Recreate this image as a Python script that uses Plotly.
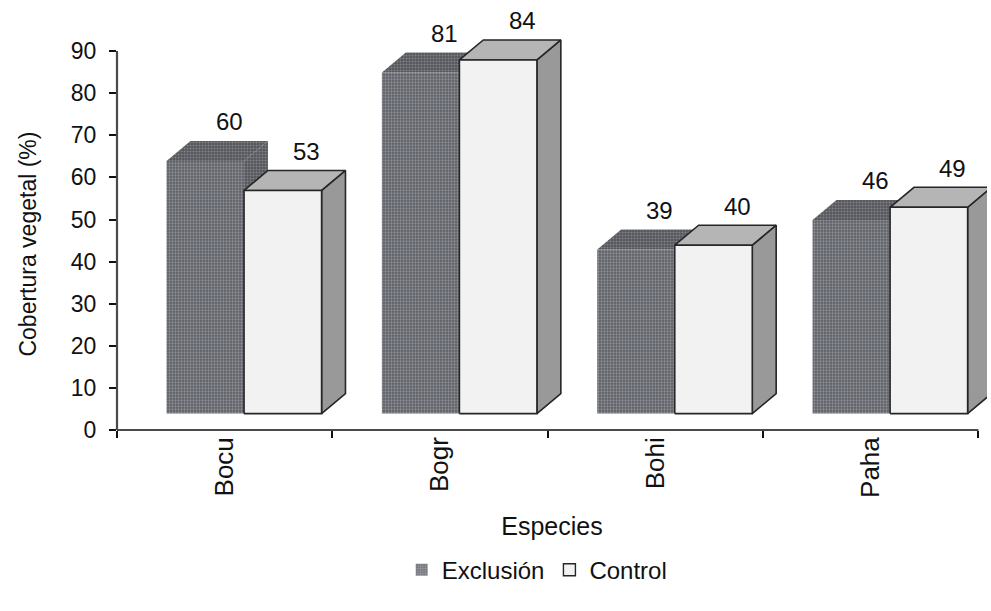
import plotly.graph_objects as go

# Cobertura vegetal por especie y tratamiento
especies = ["Bocu", "Bogr", "Bohi", "Paha"]
exclusion = [60, 81, 39, 46]
control = [53, 84, 40, 49]
y_ticks = list(range(0, 91, 10))

FONT = "Liberation Sans, Arial, sans-serif"

# Pseudo-3D column geometry, in axis units
BAR_W = 0.36      # width of a column's front face
OFF_EXC = 0.23    # left edge of the first column inside its category
DX, DY = 0.111, 4.75   # depth of the column (right / up)
BASE = 3.9        # height of the floor in front of the columns


def faces(values, offset):
    """Front, top and side polygons of each column, separated by gaps."""
    fx, fy, tx, ty, sx, sy = [], [], [], [], [], []
    for i, v in enumerate(values):
        x0 = i + offset
        x1 = x0 + BAR_W
        y0, y1 = BASE, BASE + v
        fx += [x0, x1, x1, x0, x0, None]
        fy += [y0, y0, y1, y1, y0, None]
        tx += [x0, x1, x1 + DX, x0 + DX, x0, None]
        ty += [y1, y1, y1 + DY, y1 + DY, y1, None]
        sx += [x1, x1 + DX, x1 + DX, x1, x1, None]
        sy += [y0, y0 + DY, y1 + DY, y1, y0, None]
    return (fx, fy), (tx, ty), (sx, sy)


fig = go.Figure()

exc_pattern = dict(shape=".", bgcolor="#5c5e65", fgcolor="#8d8f95",
                   size=3, solidity=0.45, fillmode="replace")
exc_dark = dict(shape=".", bgcolor="#54565c", fgcolor="#808288",
                size=3, solidity=0.4, fillmode="replace")

series = [
    (exclusion, OFF_EXC,
     dict(front=("#6a6c73", exc_pattern), top=("#5a5c62", exc_dark), side=("#55575d", exc_dark)),
     None),
    (control, OFF_EXC + BAR_W,
     dict(front=("#f2f2f2", None), top=("#b5b5b5", None), side=("#999999", None)),
     dict(color="#262626", width=1.6)),
]

for values, offset, styles, outline in series:
    front, top, side = faces(values, offset)
    for (xs, ys), key in ((side, "side"), (top, "top"), (front, "front")):
        color, patt = styles[key]
        kw = dict(x=xs, y=ys, mode="lines", fill="toself", fillcolor=color,
                  showlegend=False, hoverinfo="skip")
        if outline:
            kw["line"] = outline
        else:
            kw["line"] = dict(width=0, color=color)
        if patt:
            kw["fillpattern"] = patt
        fig.add_trace(go.Scatter(**kw))

    # value labels above the back edge of each column
    for i, v in enumerate(values):
        fig.add_annotation(x=i + offset + BAR_W / 2 + DX, y=BASE + v + DY,
                           text=str(v), showarrow=False, yanchor="middle",
                           yshift=19, font=dict(family=FONT, size=24, color="#111"))

# legend entries
fig.add_trace(go.Bar(x=[None], y=[None], name="Exclusión",
                     marker=dict(color="#6a6c73", pattern=dict(shape=".", bgcolor="#6a6c73",
                                                               fgcolor="#c8c9cc", size=3, solidity=0.5),
                                 line=dict(width=0))))
fig.add_trace(go.Bar(x=[None], y=[None], name="Control",
                     marker=dict(color="#f2f2f2", line=dict(color="#262626", width=1.4))))

# axis lines
fig.add_shape(type="line", xref="x", yref="paper", x0=0, x1=len(especies), y0=0, y1=0,
              line=dict(color="#4a4a4a", width=2.2), layer="above")
fig.add_shape(type="line", xref="paper", yref="y", x0=0, x1=0, y0=0, y1=y_ticks[-1],
              line=dict(color="#4a4a4a", width=2.2), layer="above")

# y-axis title, centred on the 0-90 scale
fig.add_annotation(xref="paper", yref="y", x=-0.1023, y=y_ticks[-1] / 2, yshift=-3,
                   text="Cobertura vegetal (%)", textangle=-90, showarrow=False,
                   xanchor="center", yanchor="middle",
                   font=dict(family=FONT, size=23, color="#111"))

fig.update_layout(
    width=991, height=611,
    margin=dict(l=117, r=4, t=9, b=181),
    paper_bgcolor="white", plot_bgcolor="white",
    font=dict(family=FONT, size=24, color="#111"),
    showlegend=True,
    legend=dict(orientation="h", x=0.483, xanchor="center", y=-0.333, yanchor="middle",
                font=dict(family=FONT, size=24, color="#111")),
    xaxis=dict(range=[0, 4.04], showgrid=False, zeroline=False, showline=False,
               tickmode="array", tickvals=[i + 0.5 for i in range(len(especies))],
               ticktext=especies, tickangle=-90, ticks="", ticklabelstandoff=1,
               tickfont=dict(family=FONT, size=26, color="#111"),
               minor=dict(tickmode="array", tickvals=list(range(len(especies) + 1)),
                          ticks="outside", ticklen=7, tickwidth=1.6, tickcolor="#111"),
               title=dict(text="Especies", standoff=20,
                          font=dict(family=FONT, size=25, color="#111"))),
    yaxis=dict(range=[0, 100], showgrid=False, zeroline=False, showline=False,
               tickmode="array", tickvals=y_ticks, ticks="outside", ticklen=7,
               tickwidth=1.6, tickcolor="#111", ticklabelstandoff=8,
               tickfont=dict(family=FONT, size=23, color="#111")),
)

fig.write_html("out.html", config={"displayModeBar": False})
